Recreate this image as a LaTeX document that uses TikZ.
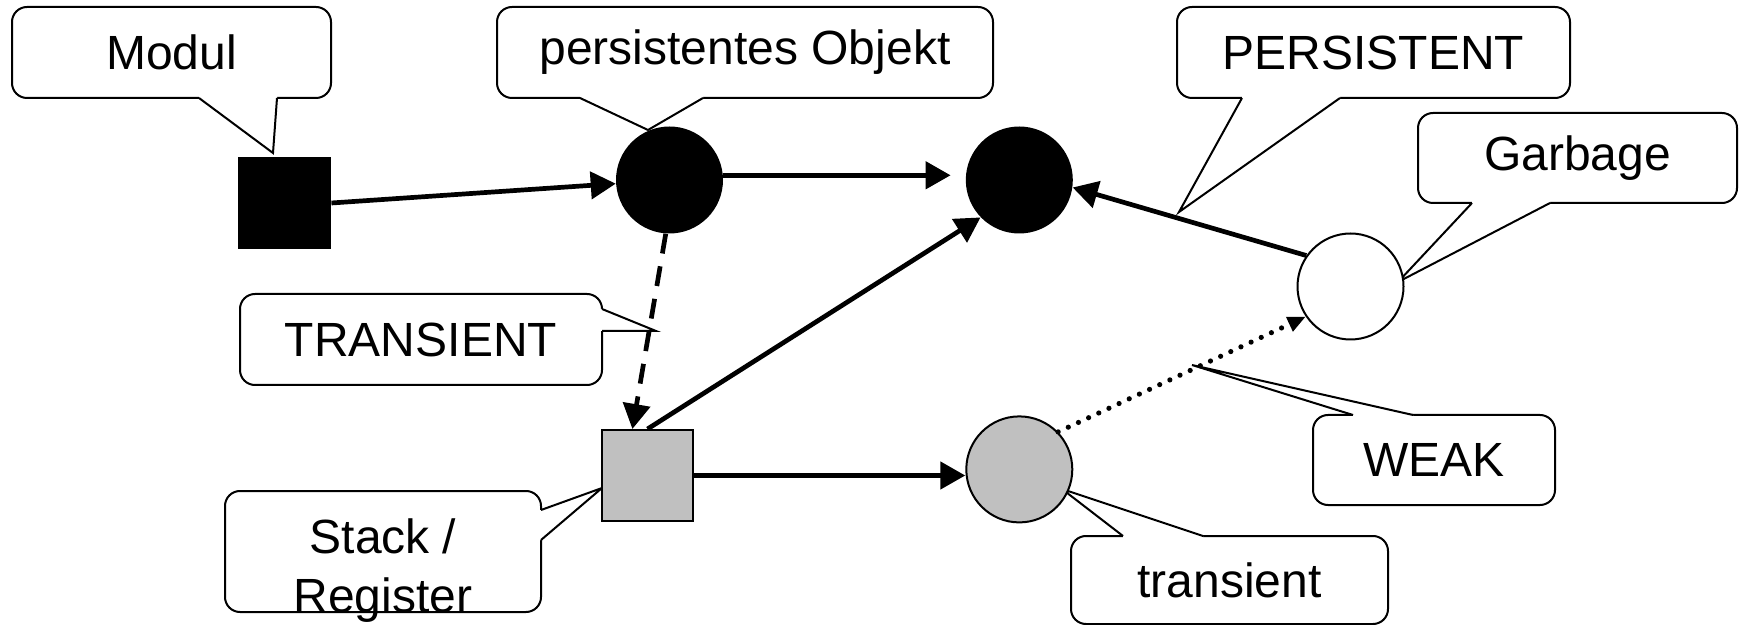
\documentclass[tikz,border=0pt]{standalone}
\usepackage{fontspec}
\setmainfont{Liberation Sans}
\usetikzlibrary{arrows.meta, positioning, calc}
\definecolor{silvergray}{RGB}{192,192,192}

% callout pointer: base a, base b, tip, shift into the box
\newcommand{\callpointer}[4]{%
  \fill[white] ($(#1)+(#4)$) -- (#1) -- (#3) -- (#2) -- ($(#2)+(#4)$) -- cycle;
  \draw[line width=1pt] (#1) -- (#3) -- (#2);
}

\begin{document}
\begin{tikzpicture}[
    x=0.5pt, y=-0.5pt,
    callbox/.style={rectangle, draw, fill=white, line width=1pt, rounded corners=7.5pt, inner sep=0pt, font=\fontsize{24}{29.5}\selectfont},
    blackobj/.style={circle, fill=black, minimum size=53.5pt, inner sep=0pt},
    grayobj/.style={circle, draw, line width=1pt, fill=silvergray, minimum size=53pt, inner sep=0pt},
    whiteobj/.style={circle, draw, line width=1pt, fill=white, minimum size=53pt, inner sep=0pt},
    arrow/.style={-{Triangle[length=12.5pt, width=13.5pt]}, line width=2.35pt},
    weakarrow/.style={-{Triangle[length=9pt, width=7.5pt]}, line width=2.6pt, line cap=round, dash pattern=on 0pt off 5.6pt}
]
    \useasboundingbox (0,0) rectangle (1745,625);

    % Callout boxes
    \node[callbox, minimum width=159.5pt, minimum height=45.5pt] (modul) at (171.5,52.5) {Modul};
    \node[callbox, minimum width=248pt, minimum height=45.5pt] (persobj) at (745,52.5) {persistentes Objekt};
    \node[callbox, minimum width=196.5pt, minimum height=45.5pt] (persistent) at (1373.5,52.5) {PERSISTENT};
    \node[callbox, minimum width=159.5pt, minimum height=45pt] (garbage) at (1577.5,158) {Garbage};
    \node[callbox, minimum width=181pt, minimum height=45.5pt] (transcaps) at (421,339.5) {TRANSIENT};
    \node[callbox, minimum width=158pt, minimum height=60.5pt] (stack) at (383,551.5) {};
    \node[font=\fontsize{24}{29.5}\selectfont, align=center, inner sep=0pt] (stacktext) at (383,571) {Stack /\\Register};
    \node[callbox, minimum width=121pt, minimum height=45pt] (weak) at (1434,460) {WEAK};
    \node[callbox, minimum width=158.5pt, minimum height=44pt] (translow) at (1229.5,580) {transient};

    % Pointers
    \callpointer{199,98}{277,98}{273,153}{0,-3}
    \callpointer{580,98}{703,98}{648,130}{0,-3}
    \callpointer{1242,98}{1340,98}{1179,212}{0,-3}
    \callpointer{1472,203}{1550,203}{1398,282}{0,-3}
    \callpointer{602,309}{602,331}{656,331}{-3,0}
    \callpointer{541,510}{541,540}{602,488}{-3,0}
    \callpointer{1353,415}{1413,415}{1192,365}{0,3}
    \callpointer{1123,536}{1203,536}{1062,489}{0,3}

    % Objects
    \node[rectangle, fill=black, minimum width=46.5pt, minimum height=46pt, inner sep=0pt] (modsq) at (284.5,203) {};
    \node[blackobj] (obj1) at (669.5,180) {};
    \node[blackobj, right=121pt of obj1] (obj2) {};
    \node[whiteobj] (whiteobj) at (1350.5,286.5) {};
    \node[rectangle, draw, line width=1pt, fill=silvergray, minimum size=45.5pt, inner sep=0pt] (graysq) at (647.5,475.5) {};
    \node[grayobj, below=90.75pt of obj2] (grayobj) {};

    % References
    \draw[arrow] (modsq.east) -- (obj1);
    \draw[arrow, shorten >=7.5pt] (obj1.5) -- (obj2.175);
    \draw[arrow] (whiteobj.145) -- (obj2.-8);
    \draw[arrow, dash pattern=on 10pt off 6.5pt] (obj1.-94) -- (graysq.108);
    \draw[arrow] (graysq.north) -- (obj2.-136);
    \draw[arrow] (graysq.east) -- (graysq.east -| grayobj.west);
    \draw[weakarrow] (grayobj.44) -- (whiteobj.214);
\end{tikzpicture}
\end{document}
